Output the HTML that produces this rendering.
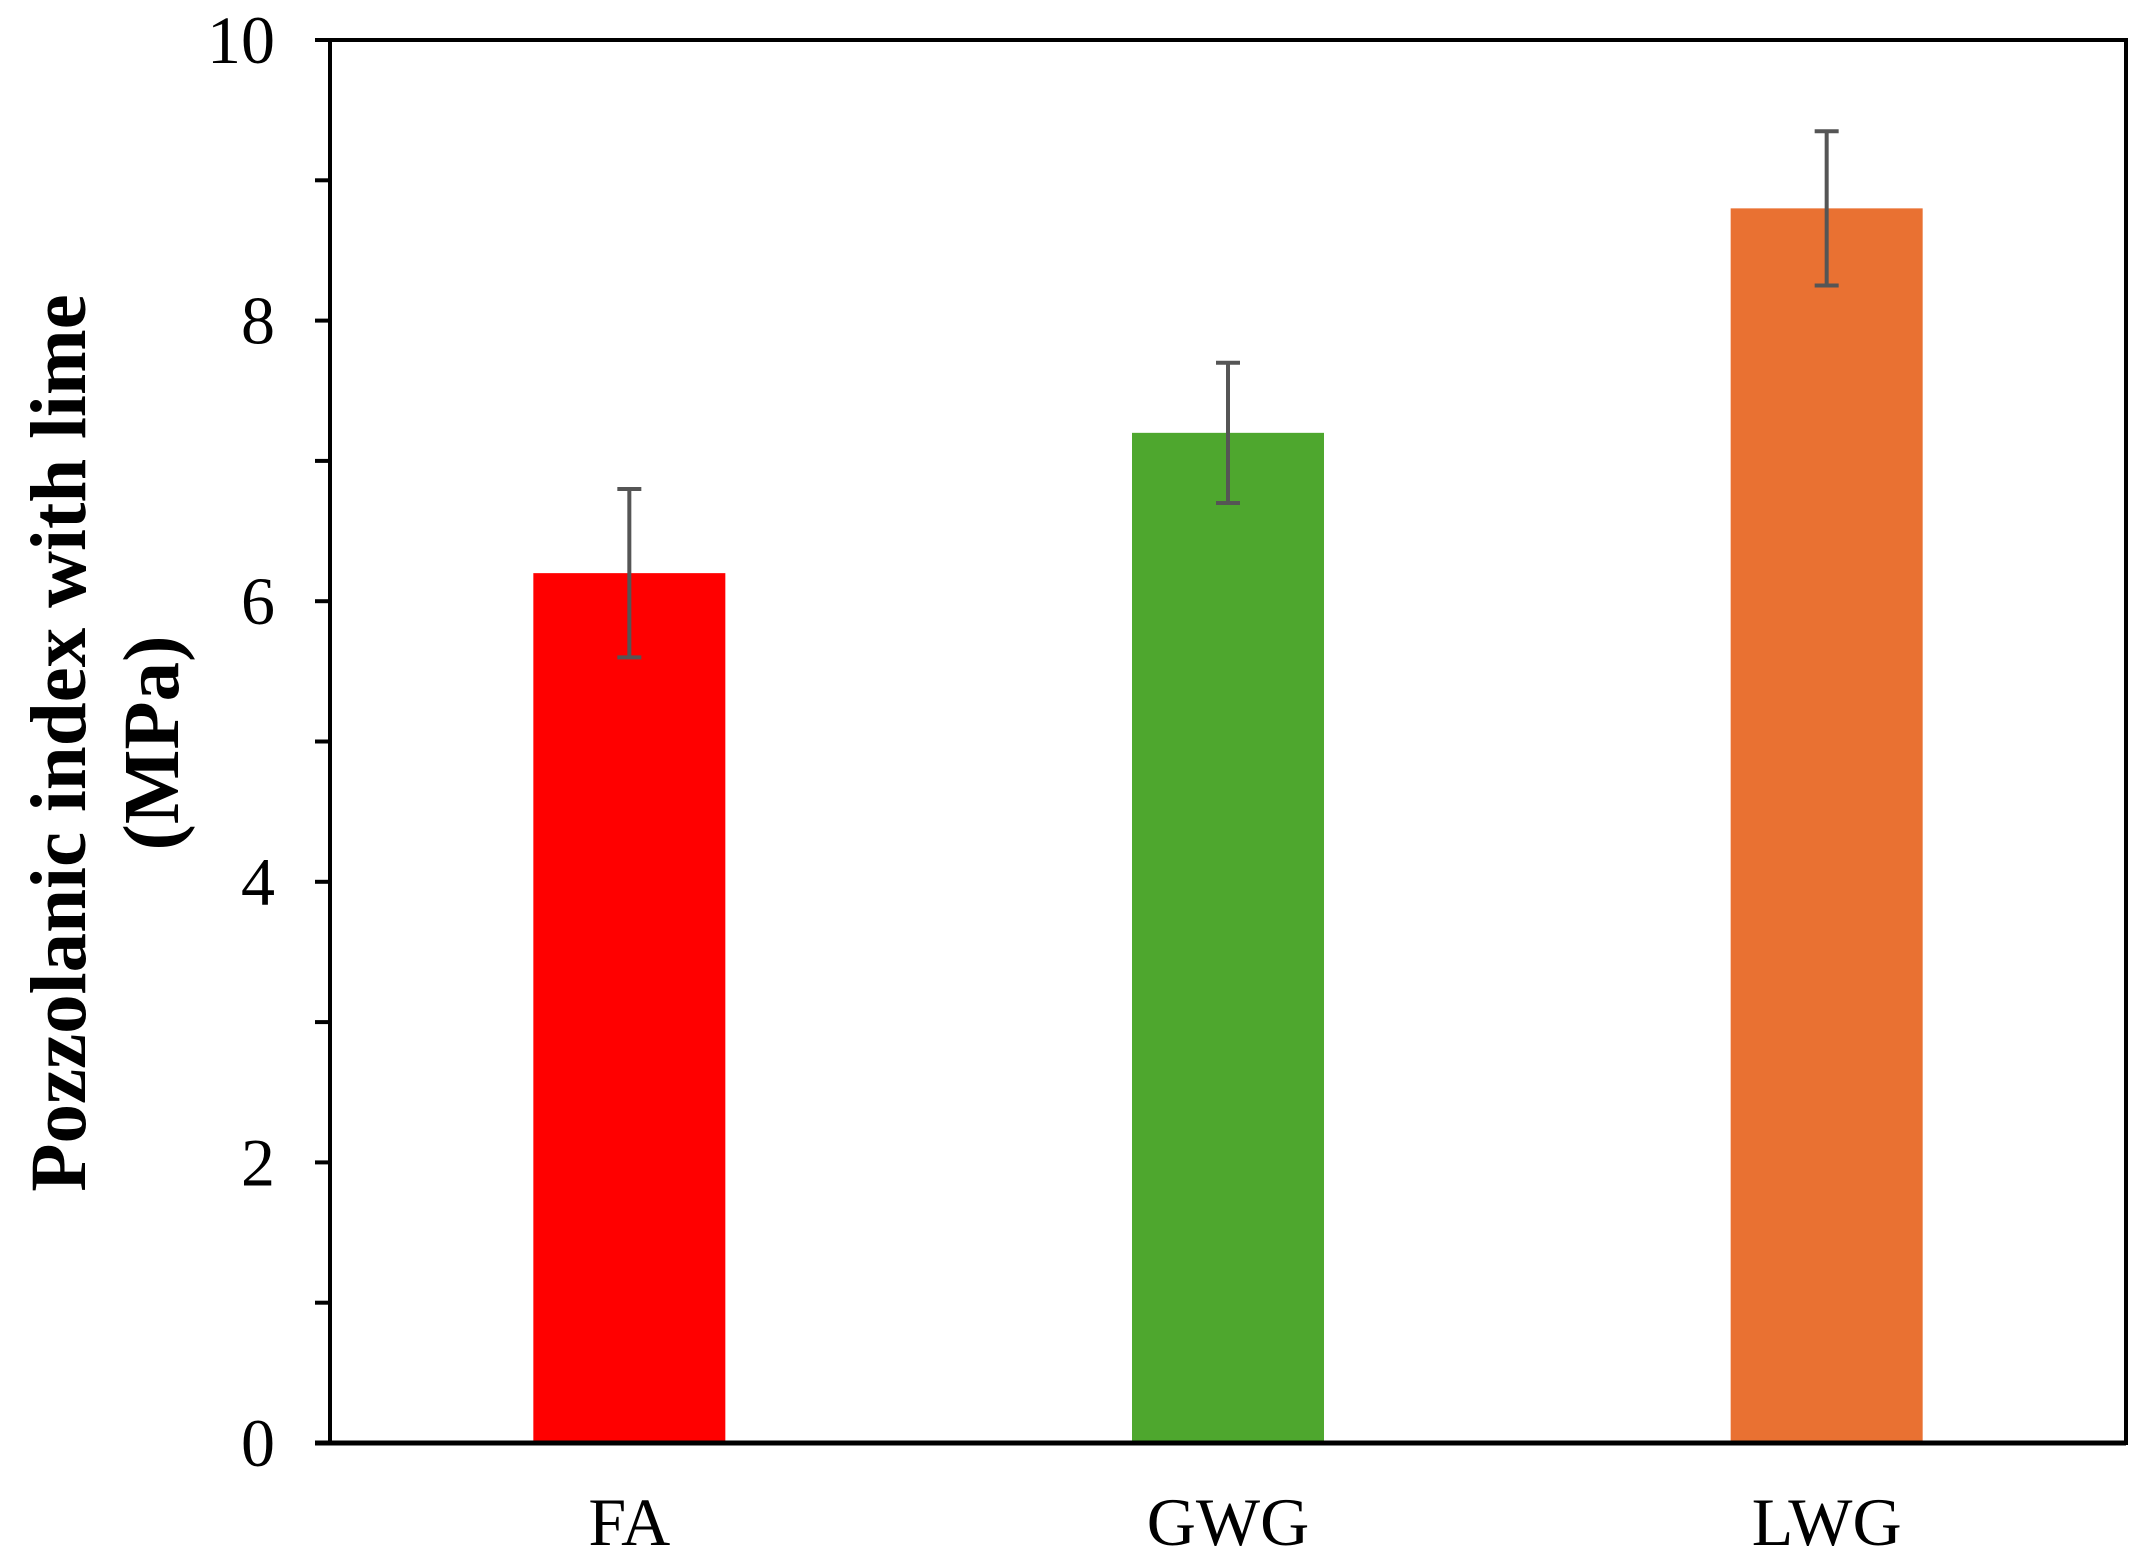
<!DOCTYPE html>
<html><head><meta charset="utf-8"><style>
html,body{margin:0;padding:0;background:#fff;}
svg{display:block;font-family:"Liberation Serif",serif;}
</style></head><body>
<svg id="chart" width="2153" height="1564" viewBox="0 0 2153 1564" xmlns="http://www.w3.org/2000/svg">
<g id="plot"></g>
<text transform="translate(85,743) rotate(-90)" text-anchor="middle" font-size="79" font-weight="bold">Pozzolanic index with lime</text>
<text transform="translate(178,743) rotate(-90)" text-anchor="middle" font-size="79" font-weight="bold">(MPa)</text>
</svg>
<script>
const categories = ["FA","GWG","LWG"];
const values = [6.2, 7.2, 8.8];
const errors = [0.6, 0.5, 0.55];
const colors = ["#FF0000","#4EA72E","#E97132"];
const yTicks = [0,2,4,6,8,10];

const L=330, R=2126, T=40, B=1443, yMax=10;
const ns="http://www.w3.org/2000/svg";
const g=document.getElementById('plot');
const y=v=>B-(v/yMax)*(B-T);
const band=(R-L)/categories.length;
const xc=i=>L+band*(i+0.5);
function mk(tag,attrs){const e=document.createElementNS(ns,tag);for(const k in attrs)e.setAttribute(k,attrs[k]);g.appendChild(e);return e;}

categories.forEach((c,i)=>{
  const r=mk('rect',{x:xc(i)-96,y:y(values[i]),width:192,height:B-y(values[i]),fill:colors[i]});
  
  
  const eg=[['line',{x1:xc(i),x2:xc(i),y1:y(values[i]+errors[i]),y2:y(values[i]-errors[i])}],
            ['line',{x1:xc(i)-12,x2:xc(i)+12,y1:y(values[i]+errors[i]),y2:y(values[i]+errors[i])}],
            ['line',{x1:xc(i)-12,x2:xc(i)+12,y1:y(values[i]-errors[i]),y2:y(values[i]-errors[i])}]];
  eg.forEach(([t,a])=>{a.stroke='#555';a['stroke-width']=4;const e=mk(t,a);
    
    });
  const t=mk('text',{x:xc(i),y:1545,'text-anchor':'middle','font-size':68});
  t.textContent=c;
  
  
});
for(let v=0;v<=yMax;v++){
  const tk=mk('line',{x1:L-15,x2:L,y1:y(v),y2:y(v),stroke:'#000','stroke-width':4});
  
  
}
yTicks.forEach(v=>{
  const t=mk('text',{x:275,y:y(v)+23,'text-anchor':'end','font-size':68});
  t.textContent=v;
  
  
});
const frame=mk('rect',{x:L,y:T,width:R-L,height:B-T,fill:'none',stroke:'#000','stroke-width':4});


const xa=mk('line',{x1:L-15,x2:R,y1:B,y2:B,stroke:'#000','stroke-width':5});


</script>
</body></html>
